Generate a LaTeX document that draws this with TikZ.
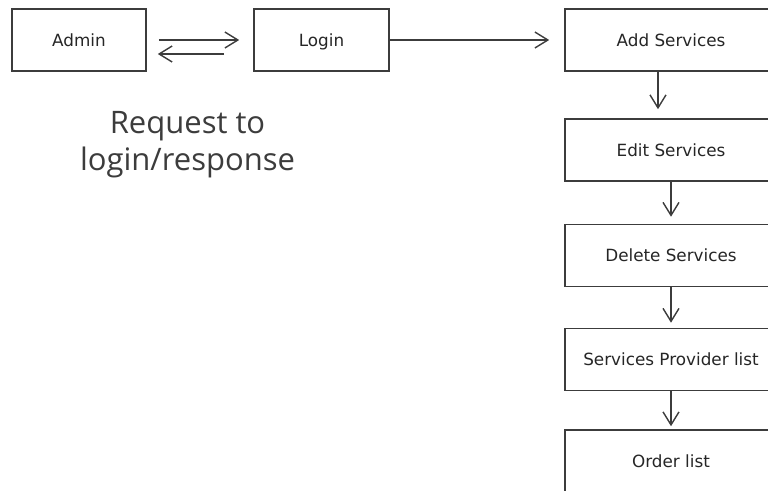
\documentclass[tikz,border=0pt]{standalone}
\usepackage{fontspec}
\setmainfont{DejaVu Sans}
\newfontfamily\labelfont{Open Sans}
\usetikzlibrary{arrows.meta}
\definecolor{edge}{HTML}{3C3C3C}
\definecolor{ink}{HTML}{262626}
\tikzset{
  box/.style={draw=edge, line width=1.6pt, fill=white, rectangle, inner sep=0pt,
    text=ink, font=\fontsize{16.8}{19}\selectfont, minimum height=62pt,
    text height=13.8pt, text depth=1.2pt},
  smallbox/.style={box, minimum width=134pt},
  colbox/.style={box, minimum width=212pt},
  arr/.style={draw=edge, line width=1.4pt,
    -{Straight Barb[length=13pt, width=16pt, line width=1.4pt]}},
}
\begin{document}
\begin{tikzpicture}[x=1pt, y=-1pt]
  \useasboundingbox (0,0) rectangle (768,490);
  \clip (0,0) rectangle (768,490);

  % top row
  \node[smallbox] (admin) at (79,40) {Admin};
  \node[smallbox, minimum width=135pt] (login) at (321.5,40) {Login};

  % service column
  \node[colbox] (add)      at (671,40)    {Add Services};
  \node[colbox] (edit)     at (671,150)   {Edit Services};
  \node[colbox] (delete)   at (671,255.5) {Delete Services};
  \node[colbox] (provider) at (671,359.5) {Services Provider list};
  \node[colbox] (order)    at (671,461)   {Order list};

  % request / response pair
  \draw[arr] ([xshift=12pt]admin.east) -- ([xshift=-14pt]login.west);
  \draw[arr] ([xshift=-29pt, yshift=-14pt]login.west) -- ([xshift=11pt, yshift=-14pt]admin.east);

  \draw[arr] (login.east) -- ([xshift=-15pt]add.west);

  % column flow
  \draw[arr, shorten >=9pt] ([xshift=-13pt]add.south) -- ([xshift=-13pt]edit.north);
  \draw[arr, shorten >=7pt] (edit.south) -- (delete.north);
  \draw[arr, shorten >=5pt] (delete.south) -- (provider.north);
  \draw[arr, shorten >=3pt] (provider.south) -- (order.north);

  % caption
  \node[font=\labelfont\fontsize{31}{37}\selectfont, text=edge, align=center,
    anchor=base] (caption) at (187.5,170) {Request to\\login/response};
\end{tikzpicture}
\end{document}
